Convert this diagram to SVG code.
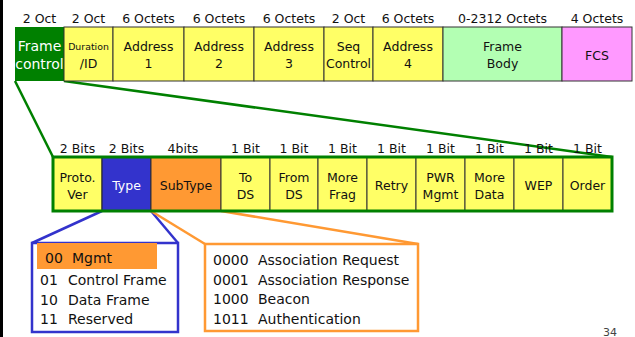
<svg xmlns="http://www.w3.org/2000/svg" width="635" height="337" viewBox="0 0 635 337">
  <style>
    text { font-family: "DejaVu Sans", Verdana, sans-serif; fill: #111; }
    .hdr { font-size: 12.5px; text-anchor: middle; }
    .cell { font-size: 12.5px; text-anchor: middle; }
    .big { font-size: 14px; }
    .list { font-size: 14px; }
    .yel { fill: #FFFF66; stroke: #333; stroke-width: 1; }
    .lnk { fill: none; stroke-width: 2.5; }
  </style>
  <rect x="0" y="0" width="635" height="337" fill="#fff"/>
  <rect x="0" y="0" width="3" height="337" fill="#000"/>

  <!-- connectors -->
  <g id="connectors">
    <line class="lnk" x1="15" y1="81" x2="53" y2="157" stroke="#008000"/>
    <line class="lnk" x1="64" y1="81" x2="612" y2="157" stroke="#008000"/>
    <line class="lnk" x1="102" y1="211" x2="32" y2="243" stroke="#3333CC"/>
    <line class="lnk" x1="151" y1="211" x2="178" y2="243" stroke="#3333CC"/>
    <line class="lnk" x1="151" y1="211" x2="205" y2="244" stroke="#FF9933"/>
    <line class="lnk" x1="221" y1="211" x2="418" y2="244" stroke="#FF9933"/>
  </g>

  <!-- MAC frame header fields -->
  <g id="mac-sizes">
    <text class="hdr" x="39.5" y="22.5">2 Oct</text>
    <text class="hdr" x="88.5" y="22.5">2 Oct</text>
    <text class="hdr" x="148.5" y="22.5">6 Octets</text>
    <text class="hdr" x="219" y="22.5">6 Octets</text>
    <text class="hdr" x="289" y="22.5">6 Octets</text>
    <text class="hdr" x="348.5" y="22.5">2 Oct</text>
    <text class="hdr" x="408" y="22.5">6 Octets</text>
    <text class="hdr" x="502.5" y="22.5">0-2312 Octets</text>
    <text class="hdr" x="597" y="22.5">4 Octets</text>
  </g>
  <g id="frame-control">
    <rect x="15" y="27" width="49" height="54" fill="#008000"/>
    <text class="cell big" x="39.5" y="50.5" style="fill:#fff">Frame</text>
    <text class="cell big" x="39.5" y="68.5" style="fill:#fff">control</text>
  </g>
  <g id="duration">
    <rect class="yel" x="64" y="27" width="49" height="54"/>
    <text class="cell" x="88.5" y="49.5" style="font-size:9.4px">Duration</text>
    <text class="cell" x="88.5" y="68">/ID</text>
  </g>
  <g id="address1">
    <rect class="yel" x="113" y="27" width="71" height="54"/>
    <text class="cell" x="148.5" y="50.5">Address</text>
    <text class="cell" x="148.5" y="68">1</text>
  </g>
  <g id="address2">
    <rect class="yel" x="184" y="27" width="70" height="54"/>
    <text class="cell" x="219" y="50.5">Address</text>
    <text class="cell" x="219" y="68">2</text>
  </g>
  <g id="address3">
    <rect class="yel" x="254" y="27" width="70" height="54"/>
    <text class="cell" x="289" y="50.5">Address</text>
    <text class="cell" x="289" y="68">3</text>
  </g>
  <g id="seq-control">
    <rect class="yel" x="324" y="27" width="49" height="54"/>
    <text class="cell" x="348.5" y="50.5">Seq</text>
    <text class="cell" x="348.5" y="68">Control</text>
  </g>
  <g id="address4">
    <rect class="yel" x="373" y="27" width="70" height="54"/>
    <text class="cell" x="408" y="50.5">Address</text>
    <text class="cell" x="408" y="68">4</text>
  </g>
  <g id="frame-body">
    <rect x="443" y="27" width="119" height="54" fill="#B3FFB3" stroke="#333" stroke-width="1"/>
    <text class="cell" x="502.5" y="50.5">Frame</text>
    <text class="cell" x="502.5" y="68">Body</text>
  </g>
  <g id="fcs">
    <rect x="562" y="27" width="70" height="54" fill="#FF99FF" stroke="#333" stroke-width="1"/>
    <text class="cell" x="597" y="59.5">FCS</text>
  </g>

  <!-- frame control bit fields -->
  <g id="fc-sizes">
    <text class="hdr" x="77.5" y="152.5">2 Bits</text>
    <text class="hdr" x="126.5" y="152.5">2 Bits</text>
    <text class="hdr" x="183" y="152.5">4bits</text>
    <text class="hdr" x="245.5" y="152.5">1 Bit</text>
    <text class="hdr" x="294" y="152.5">1 Bit</text>
    <text class="hdr" x="342.5" y="152.5">1 Bit</text>
    <text class="hdr" x="391.5" y="152.5">1 Bit</text>
    <text class="hdr" x="440.5" y="152.5">1 Bit</text>
    <text class="hdr" x="489.5" y="152.5">1 Bit</text>
    <text class="hdr" x="538.5" y="152.5">1 Bit</text>
    <text class="hdr" x="587.5" y="152.5">1 Bit</text>
  </g>
  <g id="proto-ver">
    <rect class="yel" x="53" y="157" width="49" height="54"/>
    <text class="cell" x="77.5" y="181.5">Proto.</text>
    <text class="cell" x="77.5" y="198.5">Ver</text>
  </g>
  <g id="type">
    <rect x="102" y="157" width="49" height="54" fill="#3333CC" stroke="#222" stroke-width="1"/>
    <text class="cell" x="126.5" y="190" style="fill:#fff">Type</text>
  </g>
  <g id="subtype">
    <rect x="151" y="157" width="70" height="54" fill="#FF9933" stroke="#333" stroke-width="1"/>
    <text class="cell" x="186" y="190">SubType</text>
  </g>
  <g id="to-ds">
    <rect class="yel" x="221" y="157" width="49" height="54"/>
    <text class="cell" x="245.5" y="181.5">To</text>
    <text class="cell" x="245.5" y="198.5">DS</text>
  </g>
  <g id="from-ds">
    <rect class="yel" x="270" y="157" width="48" height="54"/>
    <text class="cell" x="294" y="181.5">From</text>
    <text class="cell" x="294" y="198.5">DS</text>
  </g>
  <g id="more-frag">
    <rect class="yel" x="318" y="157" width="49" height="54"/>
    <text class="cell" x="342.5" y="181.5">More</text>
    <text class="cell" x="342.5" y="198.5">Frag</text>
  </g>
  <g id="retry">
    <rect class="yel" x="367" y="157" width="49" height="54"/>
    <text class="cell" x="391.5" y="190">Retry</text>
  </g>
  <g id="pwr-mgmt">
    <rect class="yel" x="416" y="157" width="49" height="54"/>
    <text class="cell" x="440.5" y="181.5">PWR</text>
    <text class="cell" x="440.5" y="198.5">Mgmt</text>
  </g>
  <g id="more-data">
    <rect class="yel" x="465" y="157" width="49" height="54"/>
    <text class="cell" x="489.5" y="181.5">More</text>
    <text class="cell" x="489.5" y="198.5">Data</text>
  </g>
  <g id="wep">
    <rect class="yel" x="514" y="157" width="49" height="54"/>
    <text class="cell" x="538.5" y="190">WEP</text>
  </g>
  <g id="order">
    <rect class="yel" x="563" y="157" width="49" height="54"/>
    <text class="cell" x="587.5" y="190">Order</text>
  </g>
  <rect x="53" y="157" width="559" height="54" fill="none" stroke="#008000" stroke-width="3"/>

  <!-- type values -->
  <g id="type-values">
    <rect x="32" y="243" width="146" height="89" fill="#fff" stroke="#3333CC" stroke-width="2.5"/>
    <rect x="37" y="243" width="120" height="26" fill="#FF9933"/>
    <text class="list" x="45" y="263">00</text><text class="list" x="72" y="263">Mgmt</text>
    <text class="list" x="40" y="285">01</text><text class="list" x="68" y="285">Control Frame</text>
    <text class="list" x="40" y="304.5">10</text><text class="list" x="68" y="304.5">Data Frame</text>
    <text class="list" x="40" y="324">11</text><text class="list" x="68" y="324">Reserved</text>
  </g>

  <!-- subtype values -->
  <g id="subtype-values">
    <rect x="205" y="244" width="213" height="87" fill="#fff" stroke="#FF9933" stroke-width="2.5"/>
    <text class="list" x="213" y="265">0000</text><text class="list" x="258" y="265">Association Request</text>
    <text class="list" x="213" y="284.5">0001</text><text class="list" x="258" y="284.5">Association Response</text>
    <text class="list" x="213" y="304">1000</text><text class="list" x="258" y="304">Beacon</text>
    <text class="list" x="213" y="323.5">1011</text><text class="list" x="258" y="323.5">Authentication</text>
  </g>

  <!-- page number -->
  <text x="603" y="335.5" style="font-size:11px; fill:#444">34</text>
</svg>
